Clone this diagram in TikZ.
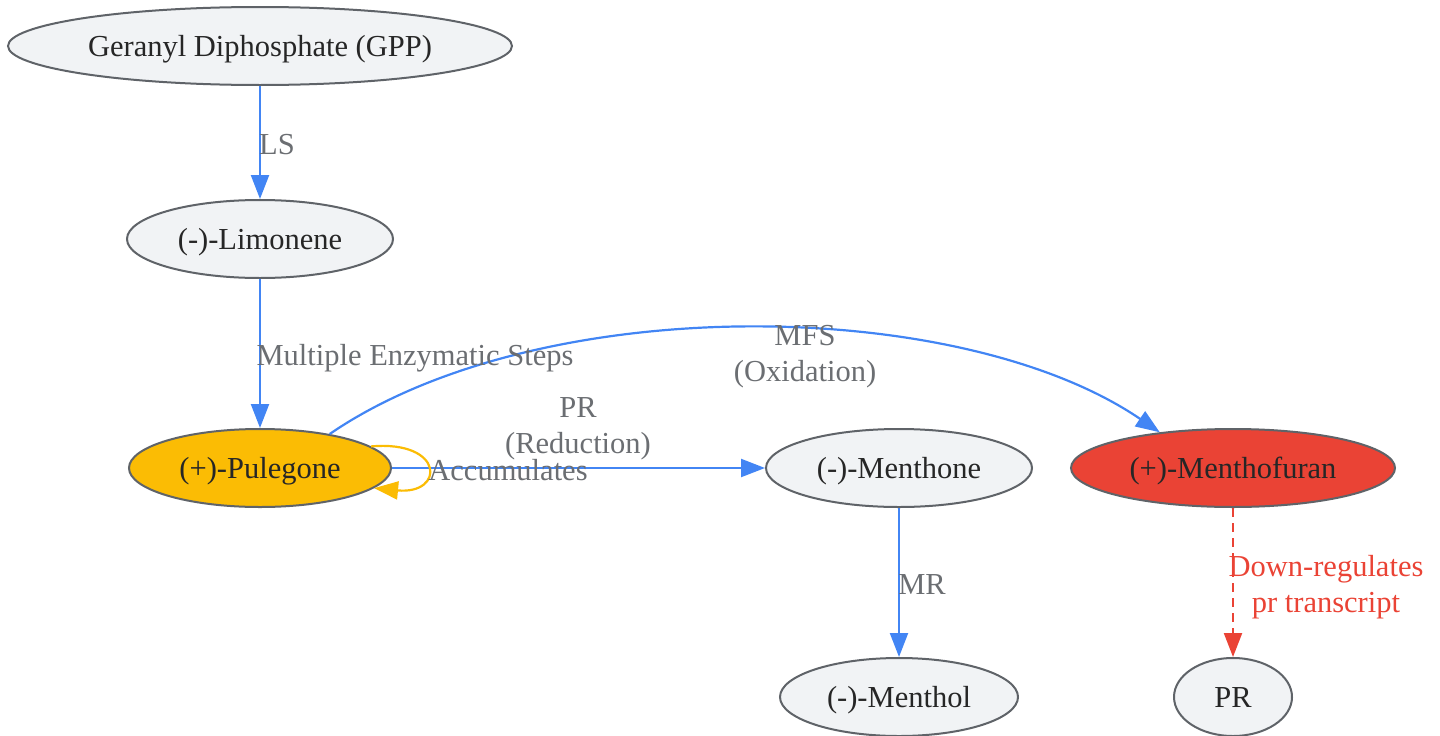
\documentclass[tikz,border=0pt]{standalone}
\usepackage{fontspec}
\setmainfont{Liberation Serif}
\usetikzlibrary{arrows.meta,shapes.geometric}
\tikzset{>={Triangle[length=24pt,width=18pt]}}
\definecolor{nodefill}{HTML}{F1F3F5}
\definecolor{nodeline}{HTML}{5F6368}
\definecolor{flow}{HTML}{4285F4}
\definecolor{amber}{HTML}{FBBC04}
\definecolor{alarm}{HTML}{EA4335}
\definecolor{lbl}{HTML}{6B6E72}

\begin{document}
\begin{tikzpicture}[x=1pt,y=-1pt,inner sep=0pt,
  font=\fontsize{30.5}{36}\selectfont,
  mol/.style={ellipse,draw=nodeline,line width=2pt,fill=nodefill,text=black!85,
    text height=26pt,text depth=6pt},
  flow/.style={draw=flow,line width=2.2pt,->},
  lab/.style={text=lbl,align=center,text height=26pt,text depth=6pt},
  labtwo/.style={text=lbl,align=center}]
\useasboundingbox (0,0) rectangle (1440,736);

\node[mol,minimum width=504,minimum height=78] (G) at (260,46) {Geranyl Diphosphate (GPP)};
\node[mol,minimum width=266,minimum height=78] (L) at (260,239) {(-)-Limonene};
\node[mol,minimum width=262,minimum height=78,fill=amber] (P) at (260,468) {(+)-Pulegone};
\node[mol,minimum width=266,minimum height=78] (M1) at (899,468) {(-)-Menthone};
\node[mol,minimum width=324,minimum height=78,fill=alarm] (F) at (1233,468) {(+)-Menthofuran};
\node[mol,minimum width=238,minimum height=78] (M2) at (899,697) {(-)-Menthol};
\node[mol,minimum width=118,minimum height=78] (R) at (1233,697) {PR};

\draw[flow] (G) -- (L);
\draw[flow] (L) -- (P);
\draw[flow] (P) -- (M1);
\draw[flow] (M1) -- (M2);
\draw[flow] (P.26) .. controls (540,290) and (960,296) .. (F.154);
\draw[draw=amber,line width=2.2pt,->] (P.11) .. controls (445,440) and (445,495) .. (P.-10);
\draw[draw=alarm,line width=2.2pt,dashed,dash pattern=on 9pt off 6pt,->] (F) -- (R);

\node[lab] (t1) at (277,144) {LS};
\node[lab] (t2) at (415,355) {Multiple Enzymatic Steps};
\node[labtwo] (t3) at (578,429) {PR\\(Reduction)};
\node[labtwo] (t4) at (805,357) {MFS\\(Oxidation)};
\node[lab] (t5) at (508,470) {Accumulates};
\node[lab] (t6) at (922,584) {MR};
\node[labtwo,text=alarm] (t7) at (1326,587) {Down-regulates\\pr transcript};
\end{tikzpicture}
\end{document}
